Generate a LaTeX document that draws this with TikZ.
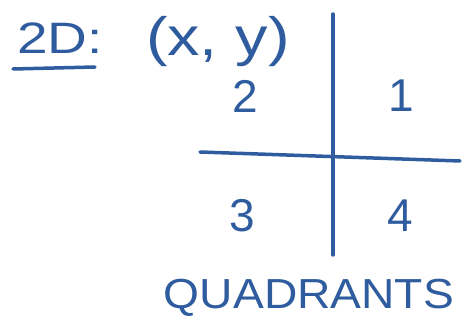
\documentclass[tikz,border=0pt]{standalone}
\usepackage{fontspec}
\setmainfont{Liberation Sans}
\definecolor{ink}{HTML}{2E5C9E}
\begin{document}
\begin{tikzpicture}[x=1pt,y=-1pt,
  pen/.style={draw=ink,line width=3.5pt,line cap=round},
  txt/.style={text=ink,inner sep=0pt,anchor=center}]
\useasboundingbox (0,0) rectangle (475,329);
\coordinate (vt) at (333,14);
\coordinate (vb) at (333,255);
\coordinate (hl) at (200,152);
\coordinate (hr) at (460,161);
\draw[pen] (vt) -- (vb);
\draw[pen] (hl) -- (hr);
\node[txt,font=\fontsize{44}{44}\selectfont,xscale=1.25] (title) at (60,38) {2D:};
\node[txt,font=\fontsize{54}{54}\selectfont,xscale=1.2] (xy) at (218,42) {(x, y)};
\coordinate (ul) at (13,69);
\coordinate (ur) at (95,67);
\draw[pen] (ul) -- (ur);
\node[txt,font=\fontsize{46}{46}\selectfont] (q2) at (245,96) {2};
\node[txt,font=\fontsize{46}{46}\selectfont] (q1) at (401,96) {1};
\node[txt,font=\fontsize{46}{46}\selectfont] (q3) at (242,216) {3};
\node[txt,font=\fontsize{46}{46}\selectfont] (q4) at (400,216) {4};
\node[txt,font=\fontsize{42}{42}\selectfont,xscale=1.1] (quad) at (309,298) {QUADRANTS};
\end{tikzpicture}
\end{document}
